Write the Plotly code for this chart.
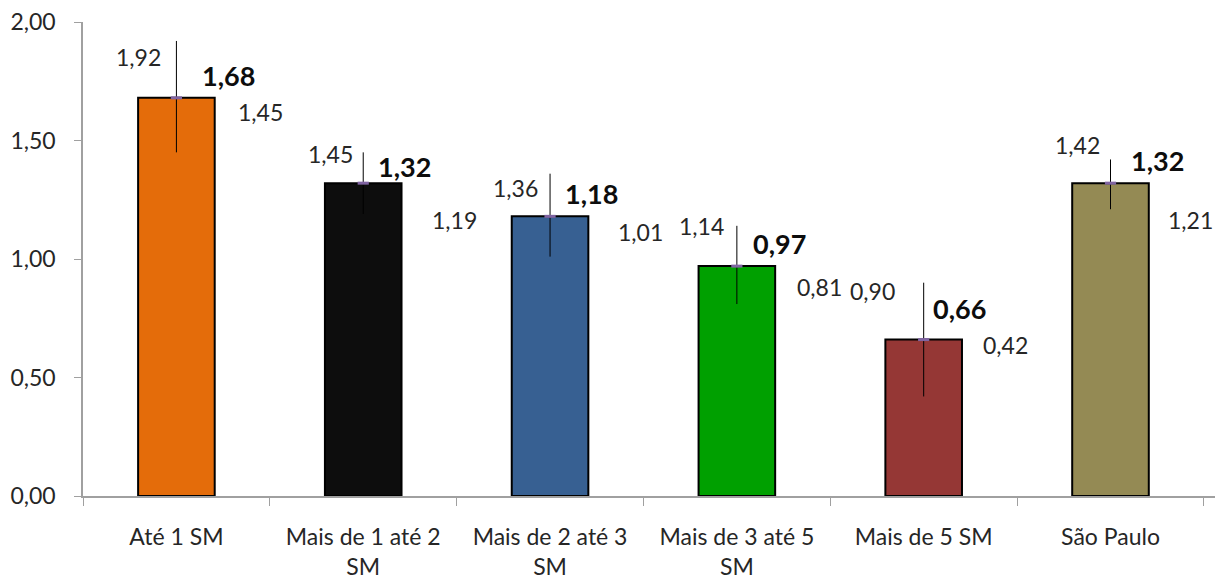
import plotly.graph_objects as go

categories = ["Até 1 SM", "Mais de 1 até 2<br>SM", "Mais de 2 até 3<br>SM",
              "Mais de 3 até 5<br>SM", "Mais de 5 SM", "São Paulo"]
means = [1.68, 1.32, 1.18, 0.97, 0.66, 1.32]
upper = [1.92, 1.45, 1.36, 1.14, 0.90, 1.42]
lower = [1.45, 1.19, 1.01, 0.81, 0.42, 1.21]
y_ticks = [0.0, 0.5, 1.0, 1.5, 2.0]

colors = ["#E46C0A", "#0D0D0D", "#376092", "#00A000", "#953735", "#948A54"]
# pixel offsets for labels (style only)
up_dy = [-16, -2, -14, 0, -8, 14]
mean_dy = [22, 17, 23, 23, 31, 23]
low_dy = [40, -6, 25, 17, 51, -11]
up_dx = [-38, -33, -35, -35, -51, -33]
mean_dx = [52, 41, 41, 43, 36, 47]
low_dx = [84, 91, 90, 83, 82, 80]

def fmt(v):
    return f"{v:.2f}".replace(".", ",")

fig = go.Figure()
fig.add_trace(go.Bar(
    x=categories, y=means, width=0.41,
    marker=dict(color=colors, line=dict(color="#000000", width=2)),
    error_y=dict(type="data", symmetric=False,
                 array=[u - m for u, m in zip(upper, means)],
                 arrayminus=[m - l for m, l in zip(means, lower)],
                 color="#000000", thickness=1, width=0),
    showlegend=False, hoverinfo="skip",
))
fig.add_trace(go.Scatter(
    x=categories, y=means, mode="markers",
    marker=dict(symbol="line-ew-open", size=8, color="#8064A2",
                line=dict(color="#8064A2", width=3)),
    showlegend=False, hoverinfo="skip",
))

font = "Lato, 'Open Sans', sans-serif"
for i, c in enumerate(categories):
    fig.add_annotation(x=c, y=upper[i], text=fmt(upper[i]), showarrow=False,
                       xshift=up_dx[i], yshift=up_dy[i],
                       font=dict(family=font, size=23, color="#262626"))
    fig.add_annotation(x=c, y=means[i], text="<b>" + fmt(means[i]) + "</b>", showarrow=False,
                       xshift=mean_dx[i], yshift=mean_dy[i],
                       font=dict(family=font, size=27, color="#0D0D0D"))
    fig.add_annotation(x=c, y=lower[i], text=fmt(lower[i]), showarrow=False,
                       xshift=low_dx[i], yshift=low_dy[i],
                       font=dict(family=font, size=23, color="#262626"))

fig.update_layout(
    width=1220, height=573,
    margin=dict(l=75, r=13, t=14, b=85),
    paper_bgcolor="white", plot_bgcolor="white",
    separators=",.",
    font=dict(family=font, size=23, color="#262626"),
)
fig.update_yaxes(range=[0, 2], tickvals=y_ticks, tickformat=".2f",
                 showline=True, linecolor="#A0A0A0", linewidth=1.5,
                 ticks="outside", ticklen=7, tickcolor="#A0A0A0",
                 ticklabelstandoff=14, ticklabeloverflow="allow",
                 automargin=False,
                 showgrid=False, zeroline=False,
                 tickfont=dict(family=font, size=23, color="#262626"))
fig.update_xaxes(showline=True, linecolor="#A0A0A0", linewidth=1.5,
                 ticks="outside", tickson="boundaries", ticklen=8, tickcolor="#A0A0A0",
                 ticklabelstandoff=20, automargin=False,
                 showgrid=False,
                 tickfont=dict(family=font, size=23, color="#262626"))

fig.write_html("out.html")
